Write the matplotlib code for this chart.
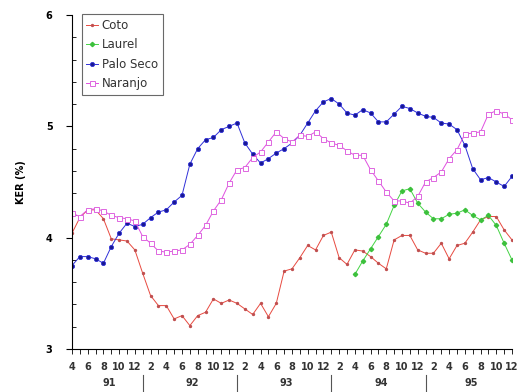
import numpy as np
import matplotlib
matplotlib.use("Agg")
from matplotlib import pyplot as plt
from matplotlib.ticker import MultipleLocator

# monthly KER values, Apr 1991 .. Dec 1995
coto = [4.04, 4.18, 4.25, 4.25, 4.17, 3.99, 3.98, 3.97, 3.89, 3.68,
        3.48, 3.39, 3.39, 3.27, 3.30, 3.21, 3.30, 3.33, 3.45, 3.41,
        3.44, 3.41, 3.36, 3.31, 3.41, 3.29, 3.41, 3.70, 3.72, 3.82,
        3.93, 3.89, 4.02, 4.05, 3.82, 3.76, 3.89, 3.88, 3.83, 3.77,
        3.72, 3.98, 4.02, 4.02, 3.89, 3.86, 3.86, 3.95, 3.81, 3.93,
        3.95, 4.05, 4.16, 4.19, 4.19, 4.07, 3.98]
laurel = [None] * 36 + [3.67, 3.79, 3.90, 4.01, 4.12, 4.29, 4.42, 4.44,
                        4.31, 4.23, 4.17, 4.17, 4.21, 4.22, 4.25, 4.20,
                        4.16, 4.20, 4.11, 3.95, 3.80]
palo_seco = [3.75, 3.83, 3.83, 3.81, 3.77, 3.92, 4.04, 4.13, 4.10, 4.12,
             4.18, 4.23, 4.25, 4.32, 4.38, 4.66, 4.80, 4.88, 4.90, 4.97,
             5.00, 5.03, 4.85, 4.75, 4.67, 4.71, 4.76, 4.80, 4.85, 4.92,
             5.03, 5.14, 5.22, 5.25, 5.20, 5.12, 5.10, 5.15, 5.12, 5.04,
             5.04, 5.11, 5.18, 5.16, 5.12, 5.09, 5.08, 5.03, 5.02, 4.97,
             4.83, 4.62, 4.52, 4.54, 4.50, 4.46, 4.55]
naranjo = [4.22, 4.19, 4.25, 4.26, 4.24, 4.20, 4.18, 4.17, 4.15, 4.01,
           3.95, 3.88, 3.87, 3.88, 3.89, 3.94, 4.02, 4.11, 4.24, 4.34,
           4.49, 4.61, 4.63, 4.72, 4.77, 4.86, 4.95, 4.89, 4.86, 4.92,
           4.91, 4.95, 4.89, 4.85, 4.83, 4.78, 4.74, 4.74, 4.61, 4.51,
           4.41, 4.33, 4.33, 4.31, 4.37, 4.50, 4.54, 4.59, 4.71, 4.79,
           4.93, 4.94, 4.95, 5.11, 5.14, 5.11, 5.06]
years = ["91", "92", "93", "94", "95"]

months = [(3 + i) % 12 + 1 for i in range(len(coto))]
x = np.arange(len(coto))

fig = plt.figure(figsize=(5.19, 3.92), dpi=100)
ax = fig.add_axes([0.1387, 0.1097, 0.8478, 0.852])

laurel_arr = np.array([np.nan if v is None else v for v in laurel])

ax.plot(x, coto, color="#e84a40", lw=0.7, marker="o", ms=1.4,
        mfc="#c05050", mec="#c05050", label="Coto")
ax.plot(x, laurel_arr, color="#44d444", lw=0.7, marker="D", ms=2.2,
        mfc="#3cc03c", mec="#3cc03c", label="Laurel")
ax.plot(x, palo_seco, color="#3030d8", lw=0.7, marker="o", ms=3.0,
        mfc="#181890", mec="#3030d8", mew=0.6, label="Palo Seco")
ax.plot(x, naranjo, color="#e050e0", lw=0.7, marker="s", ms=3.6,
        mfc="white", mec="#de66e0", mew=0.7, label="Naranjo")

ax.set_xlim(0, len(coto) - 1)
ax.set_ylim(3, 6)
ax.spines["top"].set_visible(False)
ax.spines["right"].set_visible(False)
for s in ("left", "bottom"):
    ax.spines[s].set_linewidth(0.8)

ax.yaxis.set_major_locator(MultipleLocator(1))
ax.yaxis.set_minor_locator(MultipleLocator(0.2))
ax.tick_params(axis="y", which="major", direction="out", length=4,
               width=0.8, pad=10, labelsize=7)
ax.tick_params(axis="y", which="minor", direction="in", length=3, width=0.6)
for t in ax.get_yticklabels():
    t.set_fontweight("bold")

ax.set_xticks(x[::2])
ax.set_xticklabels([str(months[i]) for i in x[::2]], fontsize=7,
                   fontweight="bold", color="#333333")
ax.set_xticks(x, minor=True)
ax.tick_params(axis="x", which="both", direction="out", length=3.5,
               width=0.6, pad=6)

# year captions and separators under the month labels
trans = ax.get_xaxis_transform()
starts = [0] + [i for i in x if months[i] == 1] + [len(coto) - 1]
for k, yr in enumerate(years):
    a, b = starts[k], starts[k + 1]
    ax.text((a + b) / 2 + 0.3, -0.102, yr, transform=trans, ha="center",
            va="center", fontsize=7, fontweight="bold", color="#333333")
for s in starts[1:-1]:
    ax.plot([s, s], [-0.078, -0.13], transform=trans, color="#555555",
            lw=0.8, clip_on=False)

ax.set_ylabel("KER (%)", fontsize=7, fontweight="bold", labelpad=14)

leg = ax.legend(loc="upper left", bbox_to_anchor=(0.022, 1.003),
                borderaxespad=0, fontsize=8.5, frameon=True, fancybox=False,
                handlelength=1.0, handletextpad=0.3, borderpad=0.4,
                labelspacing=0.55)
leg.get_frame().set_edgecolor("#444444")
leg.get_frame().set_linewidth(0.8)
for t in leg.get_texts():
    t.set_color("#333333")

fig.savefig("out.png", dpi=100)
